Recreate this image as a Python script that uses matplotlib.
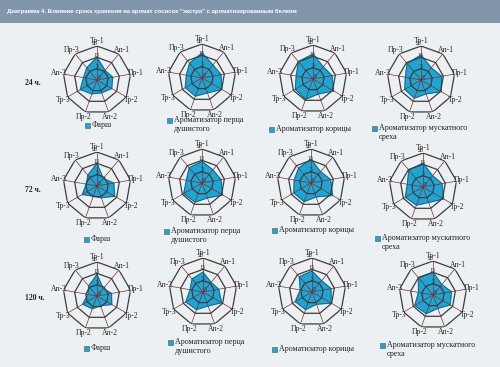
import numpy as np
import matplotlib
matplotlib.use("Agg")
import matplotlib.pyplot as plt
from matplotlib.patches import Rectangle

# axes of the radar (sensory descriptors)
axis_labels = ["Тр-1", "Ап-1", "Пр-1", "Тр-2", "Ап-2", "Пр-2", "Тр-3", "Ап-3", "Пр-3"]
ring_values = [-5, 5, 15, 25]
row_labels = ["24 ч.", "72 ч.", "120 ч."]
series_names = ["Фарш", "Ароматизатор перца\nдушистого",
                "Ароматизатор корицы", "Ароматизатор мускатного\nореха"]

# values, one list per chart
farsh_24 = [15, 6, 9, 10, 7, 8, 12, 7, 9]
perets_24 = [17, 10, 12, 15, 9, 12, 12, 9, 12]
koritsa_24 = [17, 9, 12, 16, 9, 14, 13, 10, 15]
muskat_24 = [17, 9, 13.5, 15.5, 8, 12, 11.5, 9, 14]

farsh_72 = [15, 3.5, 10, 13, 6, 4.5, 10, 4.5, 7.5]
perets_72 = [14, 10, 12, 16, 9, 13, 13.5, 9, 12.5]
koritsa_72 = [16, 8, 12.5, 17, 8, 12.5, 12.5, 10, 12]
muskat_72 = [16, 8, 12, 16, 9.5, 12, 13, 9, 14.5]

farsh_120 = [14, 3.5, 8, 10, 4, 7, 9.5, 3, 6.5]
perets_120 = [12.5, 6, 9, 14, 8, 11.5, 12.5, 6.5, 10]
koritsa_120 = [13.5, 8, 12, 14.5, 6.5, 11.5, 12, 5.5, 12.5]
muskat_120 = [15, 7, 11.5, 12.5, 7.5, 12.5, 13.5, 8, 15]

rows = [[farsh_24, perets_24, koritsa_24, muskat_24],
        [farsh_72, perets_72, koritsa_72, muskat_72],
        [farsh_120, perets_120, koritsa_120, muskat_120]]

W, H = 500, 367
fill_color = "#1ea5d4"
bg = "#edf0f3"

# chart centres and legend anchors, in pixels from the top left
centres = [[(97, 80), (202, 78), (313, 79), (421, 80)],
           [(97, 186), (202, 183), (311, 183), (423, 187)],
           [(97, 296), (203, 292), (312, 292), (433, 295)]]
legend_pos = [[(85, 125), (167, 120), (269, 129), (372, 128)],
              [(84, 239), (164, 231), (272, 230), (375, 238)],
              [(84, 348), (168, 342), (272, 349), (380, 345)]]
row_label_y = [83, 190, 298]
R = 34

plt.rcParams["font.family"] = ["Liberation Serif", "DejaVu Serif"]

fig = plt.figure(figsize=(W / 100, H / 100), dpi=100)
fig.patch.set_facecolor(bg)

# header bar
fig.patches.append(Rectangle((0, 1 - 23 / H), 1, 23 / H, transform=fig.transFigure,
                             facecolor="#8196ab", edgecolor="none"))
fig.text(7 / W, 1 - 11 / H,
         "Диаграмма 4. Влияние срока хранения на аромат сосисок \"экстра\" с ароматизированным белком",
         color="white", fontsize=4.3, fontweight="bold", family=["Liberation Sans"],
         va="center", ha="left")

theta = np.linspace(0, 2 * np.pi, len(axis_labels), endpoint=False)
theta_c = np.append(theta, theta[0])

for i, row in enumerate(rows):
    fig.text(25 / W, 1 - row_label_y[i] / H, row_labels[i], fontsize=5.5,
             fontweight="bold", ha="left", va="center", color="#222222")
    for j, vals in enumerate(row):
        cx, cy = centres[i][j]
        ax = fig.add_axes([(cx - R) / W, 1 - (cy + R) / H, 2 * R / W, 2 * R / H],
                          projection="polar")
        ax.set_theta_zero_location("N")
        ax.set_theta_direction(-1)
        ax.set_facecolor("none")
        ax.spines["polar"].set_visible(False)

        v = np.append(vals, vals[0])
        ax.fill(theta_c, v, color=fill_color, zorder=1)
        ax.plot(theta_c, v, color="#1d5f7c", lw=0.6, zorder=2)

        for rv in ring_values[1:]:
            ax.plot(theta_c, [rv] * len(theta_c), color="#3c3c3c", lw=0.9, zorder=3)

        ax.set_ylim(ring_values[0], ring_values[-1])
        ax.set_xticks(theta)
        ax.set_xticklabels([])
        ax.xaxis.grid(True, color="#7a2e2e", lw=0.5, zorder=2)
        # axis names sit right on the outer vertices
        for t, lab in zip(theta, axis_labels):
            ax.text(t, ring_values[-1] + 4.5, lab, fontsize=5.5, color="#222222",
                    ha="center", va="center", zorder=5)
        ax.set_yticks(ring_values)
        ax.set_yticklabels([str(r) for r in ring_values], fontsize=4.3, color="#333333")
        ax.set_rlabel_position(-9)
        ax.yaxis.grid(False)

        # legend: small square plus name
        lx, ly = legend_pos[i][j]
        fig.patches.append(Rectangle((lx / W, 1 - (ly + 3) / H), 5 / W, 5 / H,
                                     transform=fig.transFigure, facecolor=fill_color,
                                     edgecolor="#555555", lw=0.4))
        fig.text((lx + 7) / W, 1 - (ly - 4) / H, series_names[j], fontsize=5.8,
                 ha="left", va="top", color="#222222", linespacing=1.1)

fig.savefig("out.png", dpi=100, facecolor=fig.get_facecolor())
